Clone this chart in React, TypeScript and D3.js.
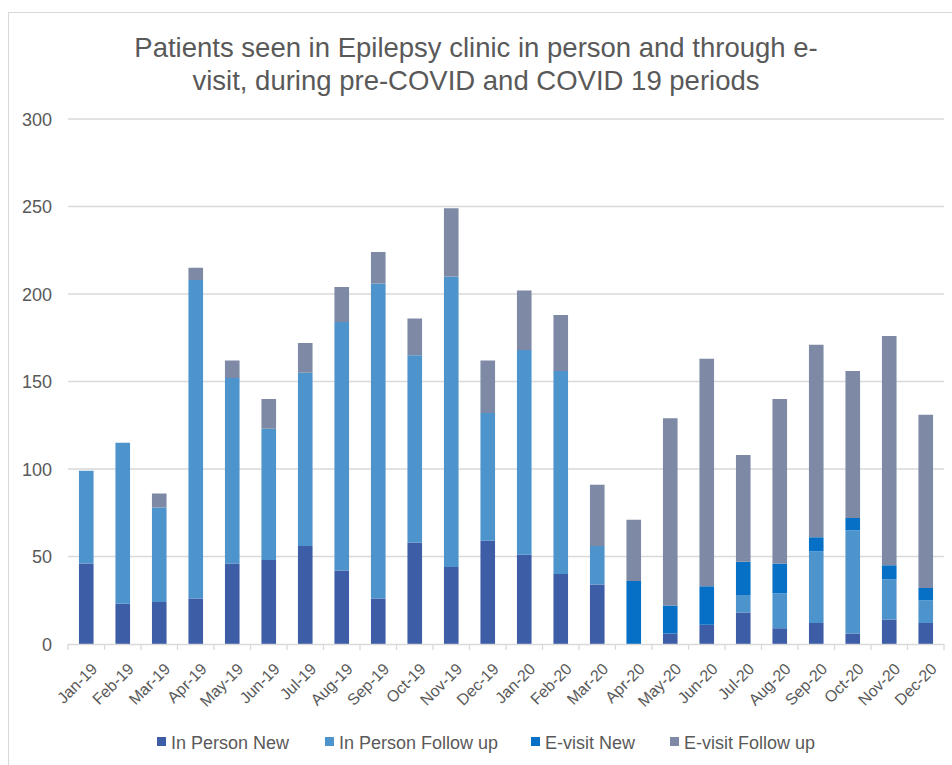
import React, { useRef, useEffect } from "react";
import * as d3 from "d3";

const months = [
  "Jan-19", "Feb-19", "Mar-19", "Apr-19", "May-19", "Jun-19",
  "Jul-19", "Aug-19", "Sep-19", "Oct-19", "Nov-19", "Dec-19",
  "Jan-20", "Feb-20", "Mar-20", "Apr-20", "May-20", "Jun-20",
  "Jul-20", "Aug-20", "Sep-20", "Oct-20", "Nov-20", "Dec-20",
];

const inPersonNew = [46, 23, 24, 26, 46, 48, 56, 42, 26, 58, 44, 59, 51, 40, 34, 0, 6, 11, 18, 9, 12, 6, 14, 12];
const inPersonFollowUp = [53, 92, 54, 182, 106, 75, 99, 142, 180, 107, 166, 73, 117, 116, 22, 0, 0, 0, 10, 20, 41, 59, 23, 13];
const eVisitNew = [0, 0, 0, 0, 0, 0, 0, 0, 0, 0, 0, 0, 0, 0, 0, 36, 16, 22, 19, 17, 8, 7, 8, 7];
const eVisitFollowUp = [0, 0, 8, 7, 10, 17, 17, 20, 18, 21, 39, 30, 34, 32, 35, 35, 107, 130, 61, 94, 110, 84, 131, 99];

const seriesNames = ["In Person New", "In Person Follow up", "E-visit New", "E-visit Follow up"];
const seriesColors = ["#3d5da7", "#4d93cc", "#0570c6", "#7e8aa5"];
const yTicks = [0, 50, 100, 150, 200, 250, 300];

const titleLines = [
  "Patients seen in Epilepsy clinic in person and through e-",
  "visit, during pre-COVID and COVID 19 periods",
];

type Row = { month: string; [key: string]: number | string };

const App: React.FC = () => {
  const svgRef = useRef<SVGSVGElement | null>(null);
  const width = 952;
  const height = 765;

  useEffect(() => {
    const svg = d3.select(svgRef.current);
    svg.selectAll("*").remove();

    const font = "Liberation Sans, Arial, sans-serif";
    const textColor = "#595959";

    const rows: Row[] = months.map((m, i) => ({
      month: m,
      [seriesNames[0]]: inPersonNew[i],
      [seriesNames[1]]: inPersonFollowUp[i],
      [seriesNames[2]]: eVisitNew[i],
      [seriesNames[3]]: eVisitFollowUp[i],
    }));

    const x = d3.scaleBand<string>().domain(months).range([68, 944]).paddingInner(0.6).paddingOuter(0.3);
    const y = d3.scaleLinear().domain([0, 300]).range([644, 119]);

    // chart frame (only top and left visible in the crop)
    svg.append("rect")
      .attr("x", 8.5).attr("y", 12.5)
      .attr("width", 960).attr("height", 800)
      .attr("fill", "#fff")
      .attr("stroke", "#d9d9d9");

    // title
    svg.append("g")
      .selectAll("text")
      .data(titleLines)
      .enter()
      .append("text")
      .attr("x", 476)
      .attr("y", (d, i) => 57 + i * 33)
      .attr("text-anchor", "middle")
      .style("font-family", font)
      .style("font-size", "27.5px")
      .style("fill", textColor)
      .text((d) => d);

    // gridlines
    svg.append("g")
      .selectAll("line")
      .data(yTicks.filter((t) => t > 0))
      .enter()
      .append("line")
      .attr("x1", 68).attr("x2", 944)
      .attr("y1", (d) => y(d)).attr("y2", (d) => y(d))
      .attr("stroke", "#d9d9d9")
      .attr("stroke-width", 1.3);

    // y labels
    svg.append("g")
      .selectAll("text")
      .data(yTicks)
      .enter()
      .append("text")
      .attr("x", 52)
      .attr("y", (d) => y(d) + 6.5)
      .attr("text-anchor", "end")
      .style("font-family", font)
      .style("font-size", "18px")
      .style("fill", textColor)
      .text((d) => d);

    // stacked bars
    const stack = d3.stack<Row>().keys(seriesNames).value((d, k) => d[k] as number);
    const layers = stack(rows);

    svg.append("g")
      .selectAll("g")
      .data(layers)
      .enter()
      .append("g")
      .attr("fill", (d, i) => seriesColors[i])
      .selectAll("rect")
      .data((d) => d.filter((p) => p[1] - p[0] > 0))
      .enter()
      .append("rect")
      .attr("x", (d) => x(d.data.month) as number)
      .attr("y", (d) => y(d[1]))
      .attr("width", x.bandwidth())
      .attr("height", (d) => y(d[0]) - y(d[1]));

    // x axis
    const axis = svg.append("g");
    axis.append("line")
      .attr("x1", 68).attr("x2", 944)
      .attr("y1", 644.5).attr("y2", 644.5)
      .attr("stroke", "#d9d9d9")
      .attr("stroke-width", 1.3);

    const step = x.step();
    axis.selectAll("line.tick")
      .data(d3.range(months.length + 1))
      .enter()
      .append("line")
      .attr("class", "tick")
      .attr("x1", (d) => 68 + d * step).attr("x2", (d) => 68 + d * step)
      .attr("y1", 644).attr("y2", 650)
      .attr("stroke", "#d9d9d9")
      .attr("stroke-width", 1.3);

    axis.selectAll("text")
      .data(months)
      .enter()
      .append("text")
      .attr("transform", (d) => {
        const cx = (x(d) as number) + x.bandwidth() / 2 + 12;
        return `translate(${cx}, 670) rotate(-45)`;
      })
      .attr("text-anchor", "end")
      .style("font-family", font)
      .style("font-size", "16px")
      .style("fill", textColor)
      .text((d) => d);

    // legend
    const legendX = [157, 325, 531, 670];
    const legend = svg.append("g")
      .selectAll("g")
      .data(seriesNames)
      .enter()
      .append("g")
      .attr("transform", (d, i) => `translate(${legendX[i]}, 742)`);

    legend.append("rect")
      .attr("x", 0).attr("y", -5)
      .attr("width", 9).attr("height", 9)
      .attr("fill", (d, i) => seriesColors[i]);

    legend.append("text")
      .attr("x", 14).attr("y", 6.5)
      .style("font-family", font)
      .style("font-size", "18px")
      .style("fill", textColor)
      .text((d) => d);
  }, []);

  return (
    <svg
      ref={svgRef}
      width={width}
      height={height}
      style={{ position: "absolute", left: 0, top: 0, background: "#fff" }}
    />
  );
};

export default App;
